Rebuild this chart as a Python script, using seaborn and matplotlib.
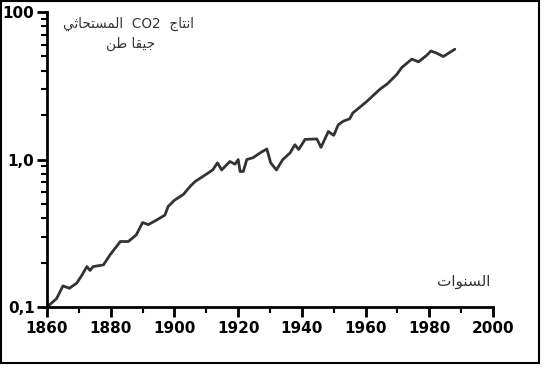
import pandas as pd
import matplotlib.pyplot as plt
import seaborn as sns
from matplotlib.patches import Rectangle
from matplotlib.ticker import LogLocator, FixedLocator, MultipleLocator, NullFormatter

# --- Data (fossil CO2 output, Gt) ---
years = [1860, 1863, 1865, 1867, 1869.3, 1871, 1872.5, 1873.5, 1874.5, 1877.7,
         1879.8, 1883, 1885.5, 1888, 1890, 1891.8, 1894.5, 1897, 1898, 1900,
         1902.8, 1905, 1906.5, 1909, 1912, 1913.5, 1914.8, 1917.4, 1919, 1920,
         1920.6, 1921.6, 1922.7, 1924.7, 1926.9, 1929, 1930.2, 1932, 1934, 1936.3,
         1937.8, 1939, 1941, 1944.7, 1946, 1948.3, 1950, 1951.4, 1953, 1955,
         1956, 1960.3, 1964.5, 1966.8, 1969.8, 1971.3, 1974.5, 1976.6, 1979.2, 1980.5,
         1982.3, 1984.4, 1988]
co2 = [0.10, 0.114, 0.139, 0.134, 0.145, 0.165, 0.188, 0.177, 0.188, 0.193,
       0.226, 0.278, 0.278, 0.308, 0.374, 0.362, 0.39, 0.42, 0.48, 0.53,
       0.58, 0.66, 0.71, 0.77, 0.85, 0.95, 0.85, 0.97, 0.93, 1.0,
       0.83, 0.83, 1.0, 1.03, 1.11, 1.18, 0.95, 0.85, 1.0, 1.11,
       1.26, 1.17, 1.37, 1.38, 1.21, 1.55, 1.46, 1.72, 1.82, 1.89,
       2.07, 2.47, 3.0, 3.26, 3.78, 4.2, 4.8, 4.6, 5.1, 5.45,
       5.27, 5.0, 5.6]

y_ticks = [0.1, 1.0, 10.0]
y_tick_labels = ['0,1', '1,0', '100']
x_ticks = [1860, 1880, 1900, 1920, 1940, 1960, 1980, 2000]

# Arabic strings, pre-shaped (presentation forms) in visual order,
# since matplotlib does no bidi/shaping.
title_line1 = ('\uFEF2\uFE9B\uFE8E\uFEA4\uFE98\uFEB4\uFEE4\uFEDF\uFE8D'
               '  CO2  '
               '\uFE9D\uFE8E\uFE98\uFEE7\uFE8D')          # انتاج CO2 المستحاثي
title_line2 = '\uFEE6\uFEC3 \uFE8E\uFED8\uFEF4\uFE9F'     # جيقا طن
x_label = '\uFE95\uFE8D\uFEEE\uFEE8\uFEB4\uFEDF\uFE8D'     # السنوات

df = pd.DataFrame({'year': years, 'co2': co2})

sns.set_theme(style='ticks')
plt.rcParams['font.family'] = ['DejaVu Sans']

fig = plt.figure(figsize=(5.43, 3.67), dpi=100)
ax = fig.add_axes([0.0866, 0.1635, 0.8214, 0.8035])

sns.lineplot(data=df, x='year', y='co2', ax=ax, color='#333333', linewidth=2.0)

ax.set_yscale('log')
ax.set_xlim(1860, 2000)
ax.set_ylim(0.1, 10)
ax.set_xlabel('')
ax.set_ylabel('')

ax.yaxis.set_major_locator(FixedLocator(y_ticks))
ax.set_yticklabels(y_tick_labels)
ax.yaxis.set_minor_locator(LogLocator(base=10, subs=range(2, 10)))
ax.yaxis.set_minor_formatter(NullFormatter())

ax.xaxis.set_major_locator(FixedLocator(x_ticks))
ax.xaxis.set_minor_locator(MultipleLocator(10))

for lbl in ax.get_xticklabels() + ax.get_yticklabels():
    lbl.set_fontweight('bold')
    lbl.set_fontsize(11)
    lbl.set_color('black')

ax.tick_params(axis='both', which='major', length=7, width=2, color='black', pad=3)
ax.tick_params(axis='both', which='minor', length=4, width=1.5, color='black')
ax.tick_params(axis='y', which='major', pad=2)

for side in ['top', 'right']:
    ax.spines[side].set_visible(False)
for side in ['left', 'bottom']:
    ax.spines[side].set_linewidth(2)
    ax.spines[side].set_color('black')

fig.text(0.237, 0.936, title_line1, ha='center', va='center', fontsize=9.8, color='#333333')
fig.text(0.240, 0.880, title_line2, ha='center', va='center', fontsize=9.8, color='#333333')
fig.text(0.903, 0.232, x_label, ha='right', va='center', fontsize=11, color='#333333')

# outer frame of the original picture
fig.patches.append(Rectangle((0.001, 0.011), 0.991, 0.987, transform=fig.transFigure,
                             fill=False, edgecolor='black', linewidth=1.5))

fig.savefig('out.png', dpi=100)
